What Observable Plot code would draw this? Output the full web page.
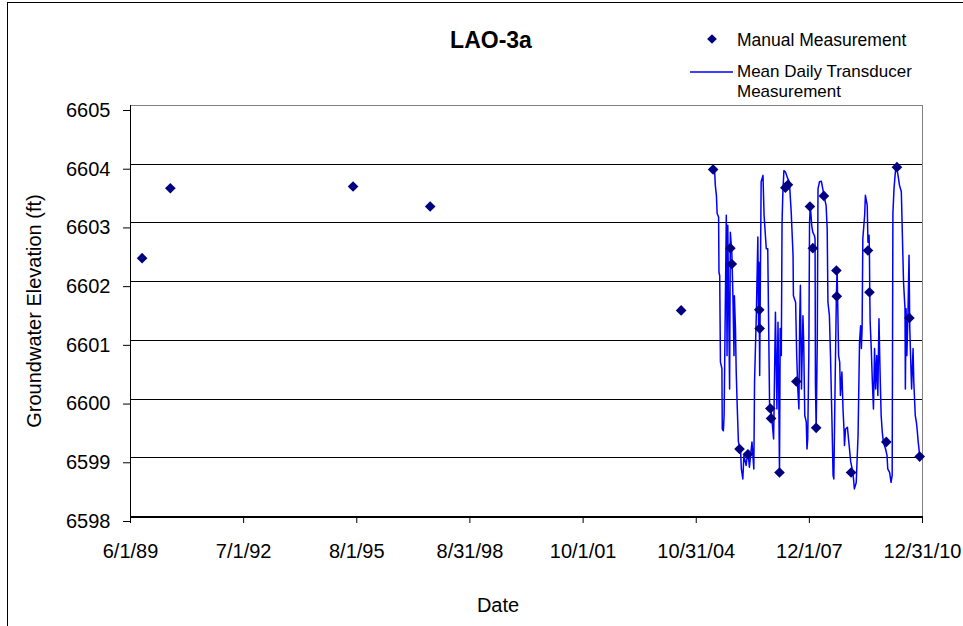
<!DOCTYPE html>
<html><head><meta charset="utf-8">
<script src="https://cdn.jsdelivr.net/npm/d3@7"></script>
<script src="https://cdn.jsdelivr.net/npm/@observablehq/plot@0.6"></script>
<style>
html,body{margin:0;padding:0;background:#fff;}
#chart{position:relative;width:963px;height:626px;overflow:hidden;}
</style></head><body><div id="chart"></div>
<script>
// ---- data ----
const chartTitle = "LAO-3a";
const seriesNames = ["Manual Measurement", "Mean Daily Transducer", "Measurement"];
const xTitle = "Date";
const yTitle = "Groundwater Elevation (ft)";
const xTickLabels = ["6/1/89","7/1/92","8/1/95","8/31/98","10/1/01","10/31/04","12/1/07","12/31/10"];
const yTicks = [6598,6599,6600,6601,6602,6603,6604,6605];

// manual measurements (decimal year, elevation ft)
const manualYears = [1989.73,1990.50,1995.48,1997.58,2004.42,2005.29,2005.76,2005.80,2006.01,2006.24,2006.55,2006.56,2006.85,2006.87,2007.10,2007.26,2007.33,2007.56,2007.93,2008.01,2008.10,2008.31,2008.65,2008.66,2009.05,2009.51,2009.55,2010.01,2010.30,2010.64,2010.92];
const manualValues = [6602.40,6603.59,6603.62,6603.28,6601.51,6603.91,6602.57,6602.30,6599.15,6599.06,6601.52,6601.20,6599.84,6599.67,6598.75,6603.60,6603.65,6600.30,6603.28,6602.57,6599.51,6603.46,6602.19,6601.75,6598.75,6602.53,6601.82,6599.27,6603.95,6601.38,6599.02];

// mean daily transducer (decimal year, elevation ft)
const transducerYears = [2005.29,2005.33,2005.35,2005.38,2005.40,2005.44,2005.45,2005.47,2005.49,2005.53,2005.54,2005.57,2005.59,2005.62,2005.65,2005.67,2005.69,2005.74,2005.76,2005.80,2005.83,2005.86,2005.87,2005.90,2005.92,2005.95,2005.98,2006.04,2006.06,2006.10,2006.13,2006.19,2006.24,2006.28,2006.35,2006.40,2006.42,2006.47,2006.51,2006.53,2006.54,2006.56,2006.57,2006.60,2006.65,2006.68,2006.74,2006.78,2006.81,2006.83,2006.87,2006.90,2006.94,2006.99,2007.03,2007.06,2007.08,2007.10,2007.12,2007.15,2007.17,2007.19,2007.22,2007.26,2007.33,2007.37,2007.42,2007.47,2007.48,2007.54,2007.57,2007.60,2007.63,2007.65,2007.67,2007.70,2007.74,2007.76,2007.79,2007.83,2007.85,2007.87,2007.90,2007.92,2007.94,2007.98,2008.01,2008.05,2008.07,2008.08,2008.10,2008.13,2008.15,2008.19,2008.24,2008.28,2008.33,2008.37,2008.40,2008.42,2008.46,2008.49,2008.51,2008.53,2008.56,2008.58,2008.62,2008.65,2008.67,2008.71,2008.74,2008.76,2008.80,2008.83,2008.86,2008.87,2008.90,2008.95,2008.98,2009.04,2009.10,2009.14,2009.19,2009.24,2009.28,2009.31,2009.33,2009.35,2009.37,2009.42,2009.44,2009.49,2009.51,2009.54,2009.55,2009.56,2009.57,2009.60,2009.63,2009.66,2009.69,2009.72,2009.75,2009.78,2009.81,2009.84,2009.87,2009.90,2009.93,2009.99,2010.03,2010.05,2010.10,2010.14,2010.17,2010.19,2010.22,2010.26,2010.30,2010.33,2010.37,2010.42,2010.44,2010.48,2010.52,2010.53,2010.55,2010.57,2010.60,2010.63,2010.65,2010.70,2010.74,2010.76,2010.80,2010.83,2010.85,2010.88,2010.92];
const transducerValues = [6603.91,6603.91,6603.64,6603.47,6603.16,6603.10,6602.16,6602.10,6600.63,6600.52,6599.49,6599.46,6599.72,6601.42,6603.13,6600.74,6602.96,6600.17,6602.84,6602.50,6601.76,6600.74,6601.76,6601.20,6600.46,6599.83,6599.27,6599.12,6598.81,6598.64,6599.04,6598.87,6599.12,6598.84,6599.27,6598.81,6600.29,6601.48,6602.76,6601.20,6602.33,6600.40,6601.31,6603.70,6603.81,6603.13,6602.56,6602.56,6600.97,6599.89,6599.83,6599.61,6599.32,6601.48,6599.83,6601.31,6600.17,6598.70,6601.20,6600.74,6603.01,6603.47,6603.89,6603.87,6603.75,6603.70,6603.18,6602.45,6601.76,6601.65,6600.74,6600.17,6599.83,6601.31,6601.94,6600.17,6601.42,6600.97,6599.72,6599.61,6599.15,6599.32,6600.74,6603.01,6603.30,6602.95,6602.84,6602.79,6602.73,6600.29,6599.49,6600.97,6603.58,6603.70,6603.71,6603.58,6603.41,6603.30,6602.90,6601.65,6601.42,6600.74,6600.17,6599.61,6598.70,6598.64,6600.46,6601.76,6602.22,6600.74,6600.63,6600.06,6600.46,6599.83,6599.44,6599.21,6599.49,6599.52,6599.32,6598.93,6598.75,6598.47,6598.58,6599.38,6600.97,6601.25,6600.86,6601.20,6602.73,6603.13,6603.47,6603.30,6602.67,6602.79,6602.50,6601.76,6601.31,6600.86,6600.29,6599.83,6600.86,6600.17,6600.74,6600.06,6601.37,6600.46,6599.72,6599.44,6599.27,6599.15,6599.04,6598.81,6598.75,6598.58,6598.70,6603.16,6603.58,6603.89,6603.92,6603.81,6603.64,6603.53,6603.01,6601.99,6601.54,6600.17,6601.54,6600.74,6601.42,6602.45,6601.20,6600.17,6600.86,6600.29,6599.72,6599.61,6599.49,6599.27,6599.04];

// ---- build ----
const FONT = "'Liberation Sans', Arial, Helvetica, sans-serif";
function fromDecimalYear(y) {
  const yr = Math.floor(y);
  const s = Date.UTC(yr, 0, 1), e = Date.UTC(yr + 1, 0, 1);
  return new Date(s + (y - yr) * (e - s));
}
const parse = d3.utcParse("%m/%d/%y");
const tickDates = xTickLabels.map(parse);
const labelMap = new Map(tickDates.map((d, i) => [+d, xTickLabels[i]]));
const manual = manualYears.map((y, i) => ({date: fromDecimalYear(y), value: manualValues[i]}));
const nT = Math.min(transducerYears.length, transducerValues.length);
const transducer = transducerYears.slice(0, nT).map((y, i) => ({date: fromDecimalYear(y), value: transducerValues[i]}));
const xStart = tickDates[0], xEnd = tickDates[tickDates.length - 1];
const gridVals = yTicks.slice(1, -1);

const plot = Plot.plot({
  width: 963, height: 626,
  marginLeft: 130, marginRight: 41, marginTop: 105, marginBottom: 110,
  x: {type: "utc", domain: [xStart, xEnd]},
  y: {domain: [yTicks[0], yTicks[yTicks.length - 1]]},
  style: {fontFamily: FONT, background: "white", color: "black"},
  marks: [
    Plot.ruleY(gridVals, {stroke: "#000", strokeWidth: 1, shapeRendering: "crispEdges"}),
    Plot.ruleY([yTicks[yTicks.length - 1]], {stroke: "#808080", strokeWidth: 1.5, shapeRendering: "crispEdges"}),
    Plot.ruleX([xEnd], {stroke: "#808080", strokeWidth: 1.5, shapeRendering: "crispEdges"}),
    Plot.line(transducer, {x: "date", y: "value", stroke: "#0000ff", strokeWidth: 1.5}),
    Plot.dot(manual, {x: "date", y: "value", symbol: "diamond2", r: 4.8, fill: "#000080", stroke: "none"}),
    Plot.ruleX([xStart], {stroke: "#000", strokeWidth: 1.5, shapeRendering: "crispEdges"}),
    Plot.ruleY([yTicks[0]], {stroke: "#000", strokeWidth: 2, shapeRendering: "crispEdges"}),
    Plot.axisY({ticks: yTicks, tickSize: 7, tickPadding: 13, fontSize: 20, dy: 5, label: null, tickFormat: d => String(d)}),
    Plot.axisX({ticks: tickDates, tickSize: 7, tickPadding: 20, fontSize: 20, label: null, tickFormat: d => labelMap.get(+d)})
  ]
});
document.getElementById("chart").appendChild(plot);

const svg = d3.select(plot);
// outer chart frame
svg.append("rect").attr("x", 7.5).attr("y", 2.5).attr("width", 1100).attr("height", 800)
  .attr("fill", "none").attr("stroke", "#000").attr("stroke-width", 1);
// title
svg.append("text").attr("x", 491).attr("y", 48).attr("text-anchor", "middle")
  .style("font-family", FONT).style("font-size", "23px").style("font-weight", "bold").text(chartTitle);
// axis titles
svg.append("text").attr("x", 498).attr("y", 612).attr("text-anchor", "middle")
  .style("font-family", FONT).style("font-size", "20px").text(xTitle);
svg.append("text").attr("transform", "translate(41,311) rotate(-90)").attr("text-anchor", "middle")
  .style("font-family", FONT).style("font-size", "20px").text(yTitle);
// legend
svg.append("path").attr("d", d3.symbol(d3.symbolDiamond2, 60)()).attr("transform", "translate(712,39)").attr("fill", "#000080");
svg.append("text").attr("x", 737).attr("y", 46).attr("text-anchor", "start").style("font-family", FONT).style("font-size", "17.5px").text(seriesNames[0]);
svg.append("line").attr("x1", 690).attr("x2", 733).attr("y1", 72).attr("y2", 72).attr("stroke", "#0000ff").attr("stroke-width", 1.3);
svg.append("text").attr("x", 737).attr("y", 77).attr("text-anchor", "start").style("font-family", FONT).style("font-size", "17px").text(seriesNames[1]);
svg.append("text").attr("x", 737).attr("y", 97).attr("text-anchor", "start").style("font-family", FONT).style("font-size", "17px").text(seriesNames[2]);
</script></body></html>
